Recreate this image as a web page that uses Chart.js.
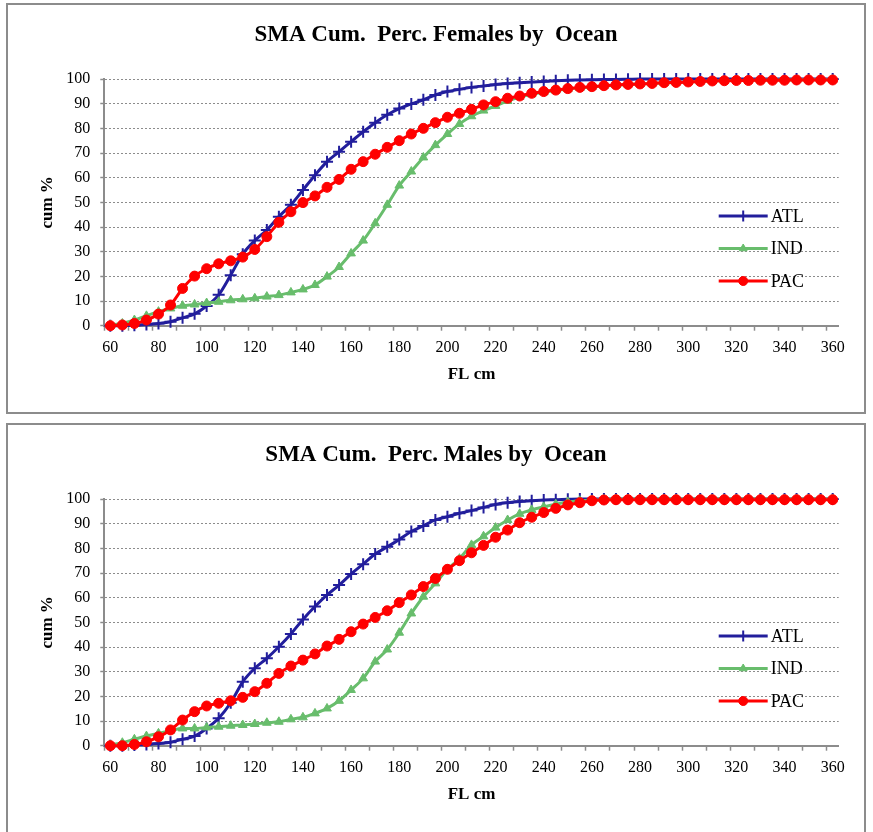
<!DOCTYPE html>
<html>
<head>
<meta charset="utf-8">
<title>SMA Cum. Perc. by Ocean</title>
<script src="https://cdn.jsdelivr.net/npm/chart.js"></script>
<style>
    body { margin: 0; background: #fff; overflow: hidden; }
    .panel {
        position: absolute;
        left: 6px;
        width: 856px;
        height: 407px;
        border: 2px solid #8c8c8c;
        background: #fff;
    }
    .panel canvas { position: absolute; left: 0; top: 0; }
</style>
</head>
<body>
<div class="panel" style="top:3px"><canvas id="grafico-hembras" width="856" height="407"></canvas></div>
<div class="panel" style="top:423px; height:415px"><canvas id="grafico-machos" width="856" height="407"></canvas></div>
<script>
// Categorias del eje X (FL cm)
const categorias = [
    '60', '65', '70', '75', '80', '85', '90', '95', '100', '105',
    '110', '115', '120', '125', '130', '135', '140', '145', '150', '155',
    '160', '165', '170', '175', '180', '185', '190', '195', '200', '205',
    '210', '215', '220', '225', '230', '235', '240', '245', '250', '255',
    '260', '265', '270', '275', '280', '285', '290', '295', '300', '305',
    '310', '315', '320', '325', '330', '335', '340', '345', '350', '355', '360'
];

// Ticks del eje Y
const ticksY = [0, 10, 20, 30, 40, 50, 60, 70, 80, 90, 100];

// Hembras (cum %)
const atlHembras = [
    0, 0, 0.2, 0.5, 0.9, 1.6, 3.2, 4.8, 8.0, 12.5,
    20.5, 29.0, 34.5, 38.8, 44.2, 49.0, 55.0, 61.0, 66.5, 70.5,
    74.6, 78.6, 82.3, 85.5, 88.0, 89.9, 91.6, 93.5, 94.9, 95.8,
    96.6, 97.2, 97.8, 98.2, 98.5, 98.8, 99.0, 99.3, 99.5, 99.6,
    99.7, 99.8, 99.8, 99.9, 100, 100, 100, 100, 100, 100,
    100, 100, 100, 100, 100, 100, 100, 100, 100, 100, 100
];
const indHembras = [
    0.3, 0.9, 2.3, 4.0, 5.7, 7.0, 8.1, 8.6, 9.2, 9.7,
    10.3, 10.7, 11.1, 11.8, 12.4, 13.5, 14.7, 16.5, 19.9, 23.8,
    29.3, 34.5, 41.5, 49.0, 56.8, 62.5, 68.2, 73.2, 77.7, 81.8,
    84.9, 87.2, 89.1, 91.1, 92.7, 93.8, 94.6, 95.3, 95.9, 96.4,
    96.8, 97.2, 97.5, 97.8, 98.0, 98.2, 98.4, 98.6, 98.8, 99.0,
    99.2, 99.3, 99.4, 99.5, 99.5, 99.6, 99.6, 99.6, 99.7, 99.7, 99.7
];
const pacHembras = [
    0, 0.3, 0.9, 2.3, 4.7, 8.4, 15.1, 20.1, 23.1, 25.1,
    26.3, 27.8, 30.9, 36.1, 41.9, 46.2, 49.9, 52.6, 56.1, 59.3,
    63.4, 66.5, 69.5, 72.3, 75.0, 77.7, 80.0, 82.3, 84.5, 86.1,
    87.7, 89.5, 90.8, 92.2, 93.1, 94.2, 94.9, 95.5, 96.1, 96.6,
    96.9, 97.3, 97.6, 97.8, 98.0, 98.2, 98.5, 98.6, 98.8, 99.0,
    99.2, 99.3, 99.4, 99.4, 99.5, 99.5, 99.5, 99.6, 99.6, 99.6, 99.6
];

// Machos (cum %)
const atlMachos = [
    0, 0, 0.3, 0.5, 0.9, 1.4, 2.6, 3.9, 7.0, 11.1,
    17.4, 25.9, 31.4, 35.4, 40.1, 45.3, 51.2, 56.4, 61.1, 65.1,
    69.6, 73.6, 77.7, 80.6, 83.6, 86.8, 89.1, 91.5, 92.8, 94.2,
    95.3, 96.6, 97.8, 98.5, 99.0, 99.3, 99.6, 99.7, 99.9, 100,
    100, 100, 100, 100, 100, 100, 100, 100, 100, 100,
    100, 100, 100, 100, 100, 100, 100, 100, 100, 100, 100
];
const indMachos = [
    0.3, 1.2, 2.6, 3.9, 5.0, 6.1, 7.0, 7.0, 7.4, 7.7,
    8.1, 8.4, 8.8, 9.3, 9.7, 10.7, 11.5, 13.1, 15.1, 18.2,
    22.6, 27.3, 34.1, 39.0, 45.8, 53.6, 60.4, 65.8, 71.5, 75.8,
    81.4, 84.9, 88.4, 91.5, 94.0, 95.6, 96.8, 97.9, 98.8, 99.3,
    99.6, 99.8, 100, 100, 100, 100, 100, 100, 100, 100,
    100, 100, 100, 100, 100, 100, 100, 100, 100, 100, 100
];
const pacMachos = [
    0, 0, 0.5, 1.6, 3.6, 6.4, 10.4, 13.8, 16.1, 17.2,
    18.2, 19.6, 21.9, 25.3, 29.3, 32.3, 34.7, 37.2, 40.4, 43.1,
    46.2, 49.3, 52.0, 54.7, 58.0, 61.1, 64.5, 67.8, 71.5, 75.0,
    78.2, 81.2, 84.5, 87.4, 90.4, 92.6, 94.5, 96.2, 97.6, 98.5,
    99.3, 99.6, 99.7, 99.7, 99.7, 99.7, 99.7, 99.7, 99.7, 99.7,
    99.7, 99.7, 99.7, 99.7, 99.7, 99.7, 99.7, 99.7, 99.7, 99.7, 99.7
];

(function() {
    const FUENTE = "'Liberation Serif', 'Times New Roman', serif";
    const GRIS = '#8c8c8c';
    const AZUL = '#221e9c';
    const VERDE = '#68bd6c';
    const ROJO = '#ff0000';

    // Leyenda dentro del area del grafico (como en Excel)
    const leyendaInterna = {
        id: 'leyendaInterna',
        afterDatasetsDraw(chart) {
            const { ctx, chartArea } = chart;
            chart.data.datasets.forEach((ds, i) => {
                const y = chartArea.top + 137 + i * 32.5;
                const x0 = chartArea.right - 120;
                const x1 = chartArea.right - 71;
                ctx.save();
                ctx.strokeStyle = ds.borderColor;
                ctx.lineWidth = 3;
                ctx.beginPath();
                ctx.moveTo(x0, y);
                ctx.lineTo(x1, y);
                ctx.stroke();
                ctx.fillStyle = ds.pointBackgroundColor;
                ctx.strokeStyle = ds.pointBorderColor;
                ctx.lineWidth = ds.pointBorderWidth;
                Chart.helpers.drawPoint(ctx, {
                    pointStyle: ds.pointStyle,
                    radius: ds.pointRadius - 0.5,
                    rotation: 0,
                    borderWidth: ds.pointBorderWidth
                }, (x0 + x1) / 2, y);
                ctx.fillStyle = '#000';
                ctx.font = '18px ' + FUENTE;
                ctx.textAlign = 'left';
                ctx.textBaseline = 'middle';
                ctx.fillText(ds.label, chartArea.right - 68, y + 1);
                ctx.restore();
            });
        }
    };

    function serie(nombre, datos, color, estilo, radio, orden) {
        return {
            label: nombre,
            data: datos,
            borderColor: color,
            backgroundColor: color,
            borderWidth: 3,
            pointStyle: estilo,
            pointRadius: radio,
            pointBackgroundColor: color,
            pointBorderColor: color,
            pointBorderWidth: estilo === 'cross' ? 2 : 1,
            cubicInterpolationMode: 'monotone',
            clip: false,
            order: orden
        };
    }

    function crearGrafico(idCanvas, titulo, atl, ind, pac) {
        const canvas = document.getElementById(idCanvas);
        if (!canvas) {
            console.error('No se encontro el canvas ' + idCanvas);
            return;
        }
        new Chart(canvas.getContext('2d'), {
            type: 'line',
            data: {
                labels: categorias,
                datasets: [
                    serie('ATL', atl, AZUL, 'cross', 6, 3),
                    serie('IND', ind, VERDE, 'triangle', 5, 2),
                    serie('PAC', pac, ROJO, 'circle', 5, 1)
                ]
            },
            options: {
                responsive: false,
                animation: false,
                // padding simetrico para que el titulo quede centrado en el panel
                layout: { padding: { left: 25.3, right: 25.3, top: 0, bottom: 0 } },
                plugins: {
                    legend: { display: false },
                    tooltip: { enabled: false },
                    title: {
                        display: true,
                        text: titulo,
                        color: '#000',
                        font: { family: FUENTE, size: 23, weight: 'bold' },
                        padding: { top: 16, bottom: 30.4 }
                    }
                },
                scales: {
                    x: {
                        type: 'category',
                        offset: true,
                        ticks: {
                            autoSkip: false,
                            maxRotation: 0,
                            minRotation: 0,
                            color: '#000',
                            padding: 7,
                            font: { family: FUENTE, size: 16 },
                            callback: (valor, i) => (i % 4 === 0 ? categorias[i] : '')
                        },
                        grid: {
                            offset: true,
                            drawOnChartArea: false,
                            drawTicks: true,
                            tickLength: 5,
                            tickWidth: 1.5,
                            tickBorderDash: [],
                            tickColor: c => (c.index % 2 === 0 ? GRIS : 'rgba(0,0,0,0)')
                        },
                        border: { color: GRIS, width: 2 },
                        title: {
                            display: true,
                            text: 'FL cm',
                            color: '#000',
                            font: { family: FUENTE, size: 17, weight: 'bold' },
                            padding: { top: 0, bottom: 27 }
                        },
                        afterFit(escala) { escala.height = 86.3; }
                    },
                    y: {
                        min: 0,
                        max: 100,
                        afterBuildTicks(escala) {
                            escala.ticks = ticksY.map(v => ({ value: v }));
                        },
                        ticks: {
                            color: '#000',
                            padding: 10,
                            font: { family: FUENTE, size: 16 }
                        },
                        grid: {
                            color: GRIS,
                            lineWidth: 1,
                            drawTicks: true,
                            tickLength: 4,
                            tickWidth: 1.5,
                            tickColor: GRIS,
                            tickBorderDash: []
                        },
                        border: { color: GRIS, width: 2, dash: [2, 2] },
                        title: {
                            display: true,
                            text: 'cum %',
                            color: '#000',
                            font: { family: FUENTE, size: 17, weight: 'bold' },
                            padding: { top: 4, bottom: 0 }
                        },
                        afterFit(escala) { escala.width = 71; }
                    }
                }
            },
            plugins: [leyendaInterna]
        });
    }

    function iniciar() {
        console.log('Dibujando graficos SMA');
        crearGrafico('grafico-hembras', 'SMA Cum.  Perc. Females by  Ocean', atlHembras, indHembras, pacHembras);
        crearGrafico('grafico-machos', 'SMA Cum.  Perc. Males by  Ocean', atlMachos, indMachos, pacMachos);
    }

    if (document.readyState === 'loading') {
        document.addEventListener('DOMContentLoaded', iniciar);
    } else {
        iniciar();
    }
})();
</script>
</body>
</html>
